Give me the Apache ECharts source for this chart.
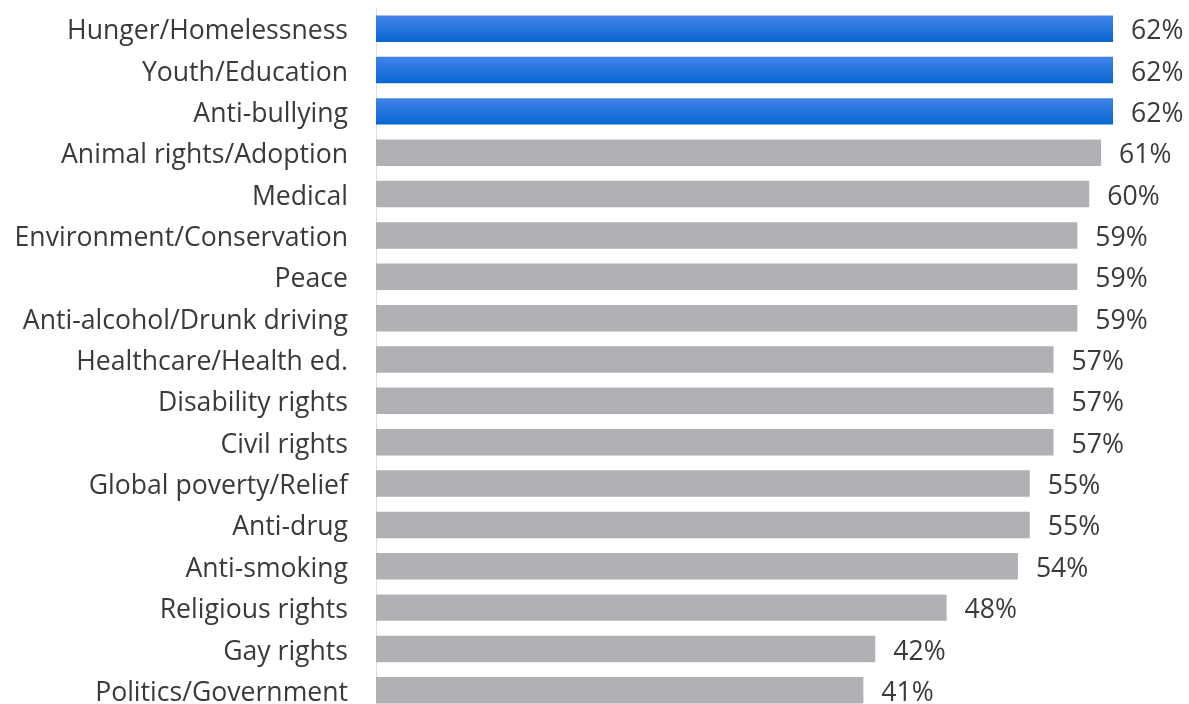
<!DOCTYPE html>
<html>
<head>
<meta charset="utf-8">
<script src="https://cdn.jsdelivr.net/npm/echarts@6/dist/echarts.min.js"></script>
<style>
  html, body { margin: 0; padding: 0; background: #fff; overflow: hidden; }
  #chart { width: 1189px; height: 714px; }
</style>
</head>
<body>
<div id="chart"></div>
<script>
// causes, top to bottom
var categories = [
    'Hunger/Homelessness', 'Youth/Education', 'Anti-bullying', 'Animal rights/Adoption',
    'Medical', 'Environment/Conservation', 'Peace', 'Anti-alcohol/Drunk driving',
    'Healthcare/Health ed.', 'Disability rights', 'Civil rights', 'Global poverty/Relief',
    'Anti-drug', 'Anti-smoking', 'Religious rights', 'Gay rights', 'Politics/Government'
];
var values = [62, 62, 62, 61, 60, 59, 59, 59, 57, 57, 57, 55, 55, 54, 48, 42, 41];
var highlighted = [true, true, true, false, false, false, false, false, false, false, false, false, false, false, false, false, false];

var blue = new echarts.graphic.LinearGradient(0, 0, 0, 1, [
    { offset: 0, color: '#4383ea' },
    { offset: 1, color: '#0866d2' }
]);
var grey = '#b0b1b5';
var textStyle = { fontFamily: 'Open Sans', fontSize: 26.6, color: '#3a3a3a' };

var myChart = echarts.init(document.getElementById('chart'));
var option = {
    animation: false,
    grid: {
        left: 376,
        width: 737,
        top: 8,
        height: 703,
        containLabel: false
    },
    xAxis: {
        type: 'value',
        min: 0,
        max: 62,
        show: false
    },
    yAxis: {
        type: 'category',
        inverse: true,
        data: categories,
        axisLine: { show: true, lineStyle: { color: '#dcdcdc', width: 1 } },
        axisTick: { show: false },
        axisLabel: {
            margin: 28,
            fontFamily: 'Open Sans',
            fontSize: 26.6,
            color: '#3a3a3a',
            formatter: function (v) { return '{t|' + v + '}'; },
            rich: {
                t: Object.assign({ padding: [6, 0, 0, 0] }, textStyle)
            }
        }
    },
    series: [
        {
            type: 'bar',
            barCategoryGap: '36%',
            data: values.map(function (v, i) {
                return { value: v, itemStyle: { color: highlighted[i] ? blue : grey } };
            }),
            label: {
                show: true,
                position: 'right',
                distance: 18,
                offset: [0, 3],
                formatter: '{c}%',
                fontFamily: 'Open Sans',
                fontSize: 26.6,
                color: '#3a3a3a'
            }
        }
    ]
};
myChart.setOption(option);
</script>
</body>
</html>
